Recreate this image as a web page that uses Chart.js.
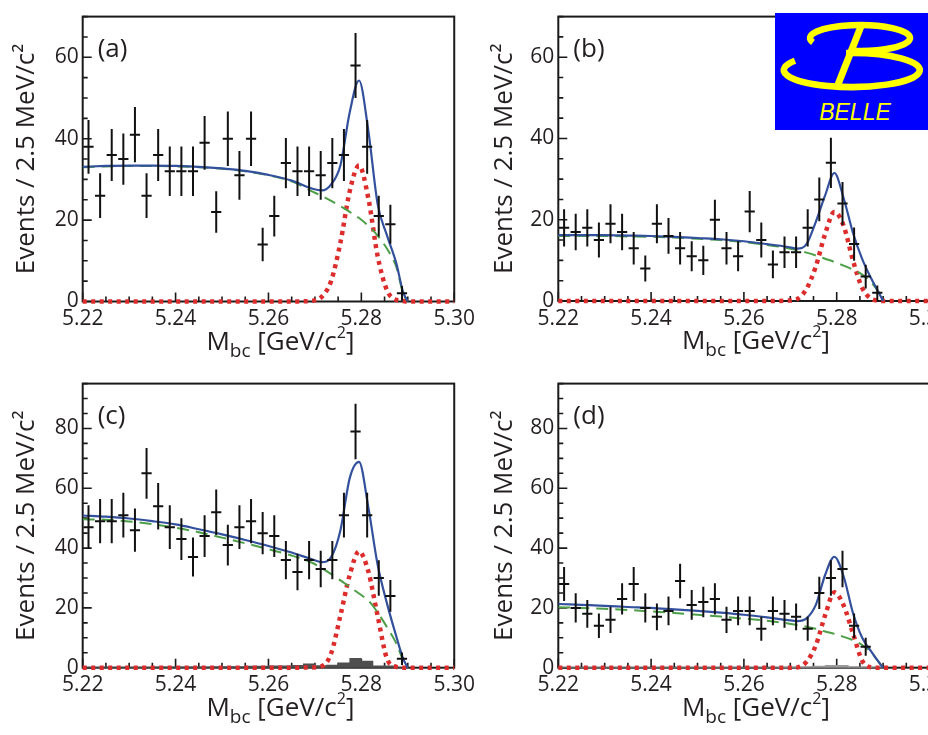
<!DOCTYPE html>
<html><head><meta charset="utf-8">
<script src="https://cdn.jsdelivr.net/npm/chart.js@4.4.0/dist/chart.umd.min.js"></script>
<style>
html,body{margin:0;padding:0;background:#fff;overflow:hidden;width:928px;height:735px;position:relative;}
.p{position:absolute;}
#logo{position:absolute;left:775px;top:13px;}
</style></head><body>
<div class="p" style="left:0;top:0"><canvas id="cA" width="480" height="367"></canvas></div>
<div class="p" style="left:460px;top:0"><canvas id="cB" width="500" height="367"></canvas></div>
<div class="p" style="left:0;top:367px"><canvas id="cC" width="480" height="368"></canvas></div>
<div class="p" style="left:460px;top:367px"><canvas id="cD" width="500" height="368"></canvas></div>
<svg id="logo" width="153" height="117" viewBox="775 13 153 117">
  <rect x="775" y="13" width="153" height="117" fill="#0000ff"/>
  <path d="M 813 42.4 A 50 13 0 1 1 851.3 50.8" fill="none" stroke="#ffff00" stroke-width="6.5"/>
  <path d="M 795 60.7 A 68 17 0 1 0 846.1 53.1" fill="none" stroke="#ffff00" stroke-width="6.5"/>
  <line x1="861.5" y1="25" x2="837" y2="87" stroke="#ffff00" stroke-width="7"/>
  <text x="855" y="120" font-family="Liberation Sans" font-style="italic" font-size="23" fill="#ffff00" text-anchor="middle">BELLE</text>
</svg>
<script>
// ---- data ----
const binCenters = [5.22125,5.22375,5.22625,5.22875,5.23125,5.23375,5.23625,5.23875,5.24125,5.24375,5.24625,5.24875,5.25125,5.25375,5.25625,5.25875,5.26125,5.26375,5.26625,5.26875,5.27125,5.27375,5.27625,5.27875,5.28125,5.28375,5.28625,5.28875];
const curveX = [5.22,5.225,5.23,5.235,5.24,5.245,5.25,5.255,5.26,5.265,5.2695,5.2715,5.2735,5.2755,5.2775,5.2795,5.2815,5.2835,5.2855,5.2875,5.289,5.29];
const sigX = [5.22,5.225,5.23,5.235,5.24,5.245,5.25,5.255,5.26,5.265,5.2695,5.2715,5.2735,5.2755,5.2775,5.2795,5.2815,5.2835,5.2855,5.2875,5.289,5.29,5.295,5.30];
const xTickLabels = [5.22,5.24,5.26,5.28,5.30];
const panelLabels = ['(a)','(b)','(c)','(d)'];

const countsA = [38,26,36,35,41,26,36,32,32,32,39,22,40,31,40,14,21,34,32,32,31,34,36,58,38,21,19,2];
const errA    = [6.6,5.5,6.4,6.3,6.8,5.5,6.4,6.1,6.1,6.1,6.6,5.1,6.7,6.0,6.7,4.1,5.0,6.2,6.1,6.1,6.0,6.2,6.4,8.0,6.6,5.0,4.8,1.8];
const bkgA = [33.0,33.2,33.3,33.3,33.2,33.0,32.6,32.0,31.0,29.5,27.0,25.9,24.7,23.4,22.0,20.5,18.6,16.2,13.0,8.6,2.0,0];
const totA = [33.1,33.3,33.4,33.4,33.3,33.1,32.7,32.1,31.1,29.7,27.7,27.3,28.8,33.5,46.5,54.3,42.0,24.0,16.3,9.5,2.3,0];
const sigA = [0,0,0,0,0,0,0,0,0,0,0.2,1.2,5.1,14.5,27.1,33.4,25.4,11.2,2.8,0.4,0.1,0,0,0];

const countsB = [18,17,18,15,19,17,13,8,19,16,13,11,10,20,13,11,22,15,9,12,12,18,25,34,24,14,6,2];
const errB    = [4.6,4.5,4.6,4.3,4.8,4.5,4.0,3.2,4.8,4.4,4.0,3.7,3.6,4.9,4.0,3.7,5.1,4.3,3.4,3.9,3.9,4.6,5.4,6.2,5.3,4.1,2.9,1.8];
const bkgB = [16.0,16.0,16.0,15.9,15.8,15.6,15.3,15.0,14.5,13.8,13.0,12.5,11.9,11.2,10.4,9.6,8.7,7.7,6.5,4.5,2.2,0];
const totB = [16.2,16.2,16.2,16.1,16.0,15.8,15.5,15.2,14.7,14.0,13.3,12.9,14.0,19.5,26.0,31.5,25.3,16.8,10.3,5.4,2.2,0];
const sigB = [0,0,0,0,0,0,0,0,0,0,0.1,0.5,3.0,8.5,16.5,21.9,18.5,10.0,3.2,0.5,0.1,0,0,0];

const countsC = [47,49,49,51,46,65,54,47,43,37,44,52,41,47,49,45,44,36,32,36,33,36,51,79,51,30,24,3];
const errC    = [7.3,7.4,7.4,7.5,7.2,8.5,7.8,7.3,7.0,6.5,7.0,7.6,6.8,7.3,7.4,7.1,7.0,6.4,6.1,6.4,6.1,6.4,7.5,9.3,7.5,5.9,5.3,2.1];
const bkgC = [49.6,49.5,48.9,48.0,46.8,45.3,43.5,41.6,39.6,37.5,35.0,33.3,31.3,29.2,27.0,24.8,22.5,18.5,13.6,8.2,2.5,0];
const totC = [50.9,50.5,49.9,49.0,47.9,46.3,44.6,42.7,40.7,38.5,36.2,35.3,37.0,46.0,63.4,68.8,53.7,34.5,21.6,10.6,3.0,0];
const sigC = [0,0,0,0,0,0,0,0,0,0,0.1,0.5,4.8,17.5,31.0,38.9,32.2,17.4,3.1,0.3,0,0,0,0];
const histC = [0.2,0.2,0.2,0.2,0.2,0.2,0.3,0.3,0.3,0.3,0.3,0.4,0.4,0.4,0.5,0.5,0.6,0.6,0.8,1.3,0.7,0.9,1.6,3.1,2.2,0.6,0.6,0.2];

const countsD = [28,20,18,14,16,23,28,20,17,19,29,21,22,23,16,19,19,13,19,18,17,13,25,30,33,14,7,null];
const errD    = [5.7,4.9,4.6,4.1,4.4,5.2,5.7,4.9,4.5,4.8,5.8,5.0,5.1,5.2,4.4,4.8,4.8,4.0,4.8,4.6,4.5,4.0,5.4,5.9,6.1,4.1,3.0,null];
const bkgD = [20.2,20.0,19.7,19.3,18.8,18.3,17.7,17.1,16.4,15.7,14.8,14.3,13.7,13.0,12.1,11.3,10.3,9.2,7.6,5.0,2.0,0];
const totD = [21.3,21.0,20.7,20.3,20.0,19.5,19.0,18.4,17.7,16.8,15.9,15.6,16.5,21.0,31.0,37.1,30.5,18.3,10.0,5.3,2.0,0];
const sigD = [0,0,0,0,0,0,0,0,0,0,0,0.1,2.0,7.5,17.5,25.2,20.8,11.5,2.3,0.1,0,0,0,0];
const histD = [0,0,0,0,0,0,0,0,0,0,0,0,0,0,0,0,0,0,0,0.2,0.2,0.3,0.5,0.8,0.8,0.3,0.2,0];

// ---- drawing ----
const FONT = "'Open Sans', sans-serif";
const TXT = '#231f20';
const pts = (xs, ys) => xs.map((x, i) => ({x: x, y: ys[i]}));

function makePanel(id, c) {
  const datasets = [];
  if (c.hist) {
    datasets.push({type: 'bar', data: pts(binCenters, c.hist), backgroundColor: c.histColor,
      barPercentage: 1, categoryPercentage: 1, borderWidth: 0, order: 5});
  }
  datasets.push({label: 'signal', data: pts(sigX, c.sig), borderColor: '#dc2c2c', borderWidth: 4.5,
    borderDash: [4, 4.5], borderCapStyle: 'butt', pointRadius: 0, cubicInterpolationMode: 'monotone', fill: false, clip: false, order: 3});
  datasets.push({label: 'background', data: pts(curveX, c.bkg), borderColor: '#4c9f46', borderWidth: 2,
    borderDash: [12, 7], pointRadius: 0, cubicInterpolationMode: 'monotone', fill: false, order: 2});
  datasets.push({label: 'total', data: pts(curveX, c.tot), borderColor: '#33509c', borderWidth: 2.2,
    pointRadius: 0, cubicInterpolationMode: 'monotone', fill: false, order: 1});

  const framePlugin = {
    id: 'frame',
    beforeDatasetsDraw(chart) {
      const {ctx, chartArea: a, scales: {x, y}} = chart;
      ctx.save();
      ctx.strokeStyle = '#1a1a1a';
      ctx.lineWidth = 2;
      ctx.strokeRect(a.left, a.top, a.right - a.left, a.bottom - a.top);
      ctx.lineWidth = 1.6;
      ctx.beginPath();
      for (let k = 0; k <= 16; k++) {
        const px = x.getPixelForValue(5.22 + k * 0.005);
        const len = (k % 4 === 0) ? 9 : 5;
        ctx.moveTo(px, a.bottom); ctx.lineTo(px, a.bottom - len);
      }
      for (let k = 0; k * 5 <= c.ymax; k++) {
        const py = y.getPixelForValue(k * 5);
        const len = (k % 4 === 0) ? 9 : 5;
        ctx.moveTo(a.left, py); ctx.lineTo(a.left + len, py);
      }
      ctx.stroke();
      ctx.restore();
    }
  };

  const dataPlugin = {
    id: 'dataPts',
    afterDatasetsDraw(chart) {
      const {ctx, chartArea: a, scales: {x, y}} = chart;
      ctx.save();
      ctx.strokeStyle = '#111';
      ctx.lineWidth = 2;
      ctx.beginPath();
      c.counts.forEach((v, i) => {
        if (v == null) return;
        const cx = binCenters[i], e = c.err[i];
        const px = x.getPixelForValue(cx), py = y.getPixelForValue(v);
        const xl = x.getPixelForValue(cx - 0.0011), xr = x.getPixelForValue(cx + 0.0011);
        const yt = y.getPixelForValue(v + e), yb = y.getPixelForValue(Math.max(0, v - e));
        ctx.moveTo(px, yt); ctx.lineTo(px, yb);
        ctx.moveTo(xl, py); ctx.lineTo(xr, py);
      });
      ctx.stroke();
      // panel label
      ctx.fillStyle = TXT;
      ctx.font = '26px ' + FONT;
      ctx.textBaseline = 'alphabetic';
      ctx.textAlign = 'left';
      ctx.fillText(c.label, a.left + 15, a.top + 40);
      // x axis title  M_bc [GeV/c^2]
      const parts = [
        {t: 'M', s: 26, dy: 0},
        {t: 'bc', s: 19, dy: 7},
        {t: ' [GeV/c', s: 26, dy: 0},
        {t: '2', s: 16, dy: -12},
        {t: ']', s: 26, dy: 0}
      ];
      let w = 0;
      parts.forEach(p => { ctx.font = p.s + 'px ' + FONT; p.w = ctx.measureText(p.t).width; w += p.w; });
      let xx = (a.left + a.right) / 2 + 12 - w / 2;
      const base = a.bottom + 48;
      parts.forEach(p => { ctx.font = p.s + 'px ' + FONT; ctx.fillText(p.t, xx, base + p.dy); xx += p.w; });
      ctx.restore();
    }
  };

  new Chart(document.getElementById(id), {
    type: 'line',
    data: {datasets: datasets},
    options: {
      responsive: false,
      animation: false,
      events: [],
      layout: {padding: {left: 0, right: c.pr, top: c.pt, bottom: 0}},
      plugins: {legend: {display: false}, tooltip: {enabled: false}},
      scales: {
        x: {
          type: 'linear', min: 5.22, max: 5.30, offset: false,
          grid: {display: false, drawTicks: false, offset: false}, border: {display: false},
          afterBuildTicks: s => { s.ticks = xTickLabels.map(v => ({value: v})); },
          ticks: {padding: 5, maxRotation: 0, autoSkip: false, color: TXT,
            font: {size: 21, family: FONT}, callback: v => Number(v).toFixed(2)},
          afterFit: s => { s.height = c.xh; }
        },
        y: {
          type: 'linear', min: 0, max: c.ymax,
          grid: {display: false, drawTicks: false}, border: {display: false},
          afterBuildTicks: s => { s.ticks = c.yTicks.map(v => ({value: v})); },
          ticks: {padding: 4, color: TXT, font: {size: 21, family: FONT}},
          title: {display: true, text: 'Events / 2.5 MeV/c²', color: TXT,
            font: {size: 26, family: FONT}, padding: {top: c.tp, bottom: 0}},
          afterFit: s => { s.width = c.yw; }
        }
      }
    },
    plugins: [framePlugin, dataPlugin]
  });
}

const yTicksAB = [0, 20, 40, 60];
const yTicksCD = [0, 20, 40, 60, 80];

makePanel('cA', {label: panelLabels[0], counts: countsA, err: errA, bkg: bkgA, tot: totA, sig: sigA,
  ymax: 70, yTicks: yTicksAB, yw: 82.7, xh: 65.5, pt: 7, pr: 25, tp: 11});
makePanel('cB', {label: panelLabels[1], counts: countsB, err: errB, bkg: bkgB, tot: totB, sig: sigB,
  ymax: 70, yTicks: yTicksAB, yw: 98.3, xh: 66, pt: 8, pr: 30.5, tp: 29});
makePanel('cC', {label: panelLabels[2], counts: countsC, err: errC, bkg: bkgC, tot: totC, sig: sigC,
  hist: histC, histColor: '#4f4f4f',
  ymax: 95, yTicks: yTicksCD, yw: 82.7, xh: 67.3, pt: 9.7, pr: 25, tp: 11});
makePanel('cD', {label: panelLabels[3], counts: countsD, err: errD, bkg: bkgD, tot: totD, sig: sigD,
  hist: histD, histColor: '#9a9a9a',
  ymax: 95, yTicks: yTicksCD, yw: 98.3, xh: 67.3, pt: 10.7, pr: 30.5, tp: 29});
</script>
</body></html>
